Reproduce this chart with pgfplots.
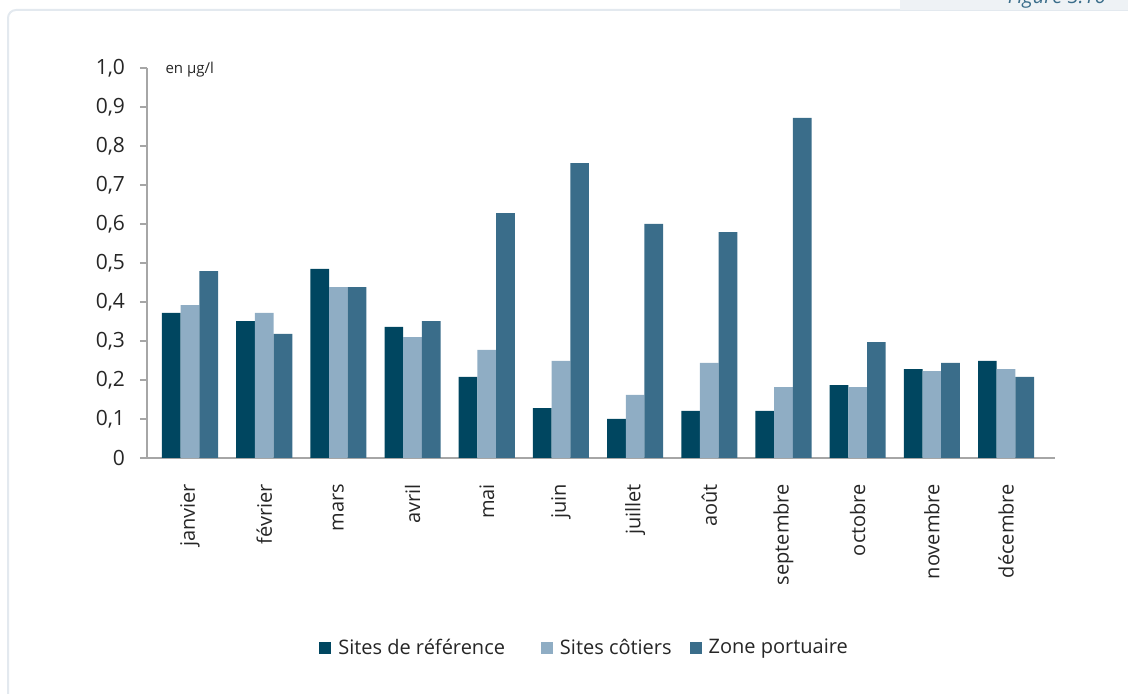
\documentclass[border=0pt]{standalone}
\usepackage{fontspec}
\setmainfont{Open Sans}
\usepackage{pgfplots}
\pgfplotsset{compat=1.18}
\definecolor{cA}{HTML}{004660}
\definecolor{cB}{HTML}{8FADC4}
\definecolor{cC}{HTML}{3A6D8A}
\definecolor{axgray}{HTML}{A6A6A6}
\definecolor{framec}{HTML}{E3E9EF}
\definecolor{txt}{HTML}{262626}
\begin{document}
\begin{tikzpicture}
\useasboundingbox (0pt,0pt) rectangle (564pt,347pt);
\draw[framec, line width=1pt, rounded corners=4pt] (4pt,-10pt) rectangle (580pt,342pt);
\fill[framec!60] (450pt,342pt) rectangle (570pt,352pt);
\node[anchor=base east, font=\itshape\fontsize{10}{12}\selectfont, text=cC, inner sep=0pt] at (553pt,345pt) {Figure 3.16};
\begin{axis}[
  at={(73.5pt,118pt)}, anchor=south west,
  scale only axis, width=454pt, height=195pt,
  ybar=0pt, bar width=9.35pt,
  xmin=-0.58, xmax=11.66, ymin=0, ymax=1.0,
  axis lines=left, axis line style={-, axgray, line width=1pt},
  xtick=data,
  xticklabels={janvier,février,mars,avril,mai,juin,juillet,août,septembre,octobre,novembre,décembre},
  xtick style={draw=none},
  xticklabel style={rotate=90, anchor=east, font=\fontsize{10}{12}\selectfont, text=txt, xshift=-6pt},
  ytick={0,0.1,...,1.0},
  yticklabels={0,{0,1},{0,2},{0,3},{0,4},{0,5},{0,6},{0,7},{0,8},{0,9},{1,0}},
  ytick style={axgray, line width=0.8pt},
  tick align=outside, major tick length=3.5pt,
  yticklabel style={font=\fontsize{10.5}{12}\selectfont, text=txt, xshift=-4pt},
  legend style={draw=none, at={(0.483,-0.487)}, anchor=center, legend columns=3,
    font=\fontsize{10}{12}\selectfont, text=txt,
    /tikz/column 2/.style={column sep=16pt},
    /tikz/column 4/.style={column sep=7pt}},
  legend image code/.code={\fill[#1] (0pt,-3pt) rectangle (6pt,3pt); \path (7.5pt,0pt);},
  clip=false,
]
\addplot[fill=cA, draw=none] coordinates {(0,0.372) (1,0.351) (2,0.485) (3,0.336) (4,0.208) (5,0.128) (6,0.100) (7,0.121) (8,0.121) (9,0.187) (10,0.228) (11,0.249)};
\addplot[fill=cB, draw=none] coordinates {(0,0.392) (1,0.372) (2,0.438) (3,0.310) (4,0.277) (5,0.249) (6,0.162) (7,0.244) (8,0.182) (9,0.182) (10,0.223) (11,0.228)};
\addplot[fill=cC, draw=none] coordinates {(0,0.479) (1,0.318) (2,0.438) (3,0.351) (4,0.628) (5,0.756) (6,0.600) (7,0.579) (8,0.872) (9,0.297) (10,0.244) (11,0.208)};
\legend{Sites de référence, Sites côtiers, Zone portuaire}
\node[anchor=west, font=\fontsize{7.5}{9}\selectfont, text=txt, inner sep=0pt] at (axis description cs:0.02,0.995) {en µg/l};
\end{axis}
\end{tikzpicture}
\end{document}
